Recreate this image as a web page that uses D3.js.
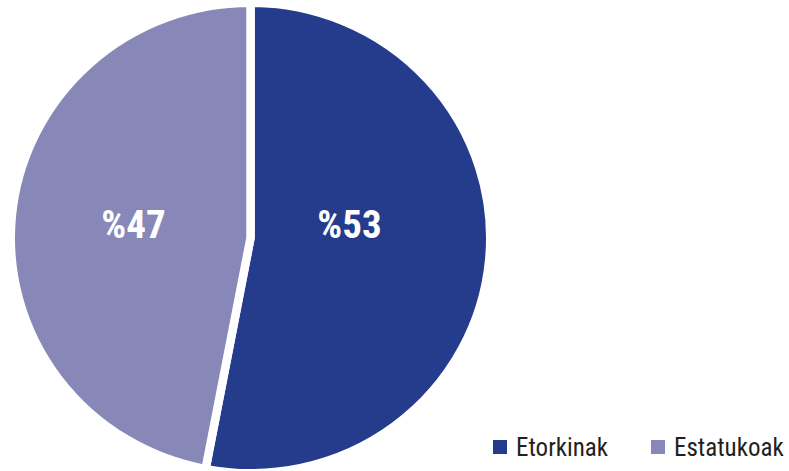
<!DOCTYPE html>
<html><head><meta charset="utf-8">
<script src="https://cdn.jsdelivr.net/npm/d3@7"></script>
<style>body{margin:0;background:#fff}svg{display:block}</style>
</head><body><svg id="c" width="789" height="471"></svg>
<script>
const categories = ["Etorkinak", "Estatukoak"];
const values = [53, 47];
const labels = ["%53", "%47"];
const colors = ["#243c8b", "#8888b8"];

const svg = d3.select("#c");
const cx = 250.5, cy = 238, r = 235.5, yScale = 0.981, gap = 8.5;
const pie = d3.pie().sort(null).value(d => d)(values);
const arc = d3.arc().innerRadius(0).outerRadius(r + gap / 2);
const g = svg.append("g").attr("transform", `translate(${cx},${cy}) scale(1,${yScale})`);
g.selectAll("path").data(pie).join("path")
  .attr("d", arc).attr("fill", (d, i) => colors[i])
  .attr("stroke", "#fff").attr("stroke-width", gap).attr("stroke-linejoin", "round");

const font = "'Liberation Sans Narrow','Arial Narrow','Roboto Condensed',sans-serif";
svg.selectAll("text.lbl").data(pie).join("text").attr("class", "lbl")
  .attr("x", d => { const m = (d.startAngle + d.endAngle) / 2; return cx + (Math.sin(m) > 0 ? 99 : -117); })
  .attr("y", 238)
  .attr("text-anchor", "middle")
  .attr("font-family", font).attr("font-weight", "bold").attr("font-size", 39)
  .attr("fill", "#fff")
  .text((d, i) => labels[i]);

const legendX = [493, 651];
const lg = svg.selectAll("g.leg").data(categories).join("g").attr("class", "leg")
  .attr("transform", (d, i) => `translate(${legendX[i]},440)`);
lg.append("rect").attr("width", 14).attr("height", 14).attr("fill", (d, i) => colors[i]);
lg.append("text").attr("x", 23).attr("y", 15.5)
  .attr("font-family", font).attr("font-size", 25).attr("fill", "#231f20")
  .text(d => d);
</script></body></html>
